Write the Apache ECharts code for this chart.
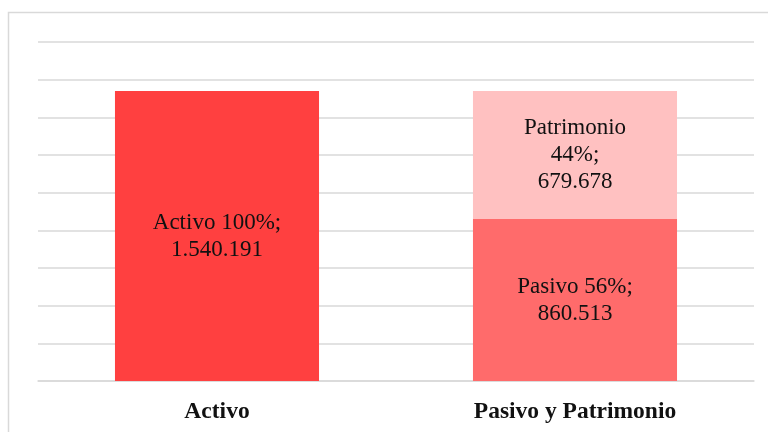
<!DOCTYPE html>
<html>
<head>
<meta charset="utf-8">
<script src="https://cdn.jsdelivr.net/npm/echarts@6/dist/echarts.min.js"></script>
<style>
  html, body { margin: 0; padding: 0; background: #fff; }
  #chart { width: 768px; height: 432px; }
</style>
</head>
<body>
<div id="chart"></div>
<script>
// categorias y valores
var categories = ['Activo', 'Pasivo y Patrimonio'];
var activo = [1540191, '-'];
var pasivo = ['-', 860513];
var patrimonio = ['-', 679678];
var total = 1540191;

var fontFam = '"Liberation Serif", "DejaVu Serif", serif';

function fmt(n) {
    return String(n).replace(/\B(?=(\d{3})+(?!\d))/g, '.');
}
function pct(n) {
    return Math.round(n / total * 100) + '%';
}

var chart = echarts.init(document.getElementById('chart'));

function lbl(fn) {
    return {
        show: true,
        position: 'inside',
        color: '#111',
        fontFamily: fontFam,
        fontSize: 23,
        lineHeight: 27,
        formatter: function (p) { return fn(p.value); }
    };
}

chart.setOption({
    animation: false,
    graphic: [{
        type: 'rect',
        shape: { x: 8.5, y: 12.5, width: 800, height: 500 },
        style: { fill: 'none', stroke: '#d9d9d9', lineWidth: 1.5 },
        silent: true
    }],
    grid: { left: 38, right: 14, top: 42, bottom: 51 },
    xAxis: {
        type: 'category',
        data: categories,
        axisLine: { lineStyle: { color: '#d9d9d9', width: 1.5 } },
        axisTick: { show: false },
        axisLabel: {
            color: '#111',
            fontFamily: fontFam,
            fontWeight: 'bold',
            fontSize: 23.5,
            margin: 19
        }
    },
    yAxis: {
        type: 'value',
        min: 0,
        max: 1800000,
        interval: 200000,
        axisLabel: { show: false },
        axisLine: { show: false },
        axisTick: { show: false },
        splitLine: { lineStyle: { color: '#d9d9d9', width: 1.5 } }
    },
    series: [
        {
            name: 'Activo', type: 'bar', stack: 'total', barWidth: '57%',
            data: activo,
            itemStyle: { color: '#ff4040' },
            label: lbl(function (v) { return 'Activo ' + pct(v) + ';\n' + fmt(v); })
        },
        {
            name: 'Pasivo', type: 'bar', stack: 'total', barWidth: '57%',
            data: pasivo,
            itemStyle: { color: '#ff6b6b' },
            label: lbl(function (v) { return 'Pasivo ' + pct(v) + ';\n' + fmt(v); })
        },
        {
            name: 'Patrimonio', type: 'bar', stack: 'total', barWidth: '57%',
            data: patrimonio,
            itemStyle: { color: '#ffc1c1' },
            label: lbl(function (v) { return 'Patrimonio\n' + pct(v) + ';\n' + fmt(v); })
        }
    ]
});
</script>
</body>
</html>
